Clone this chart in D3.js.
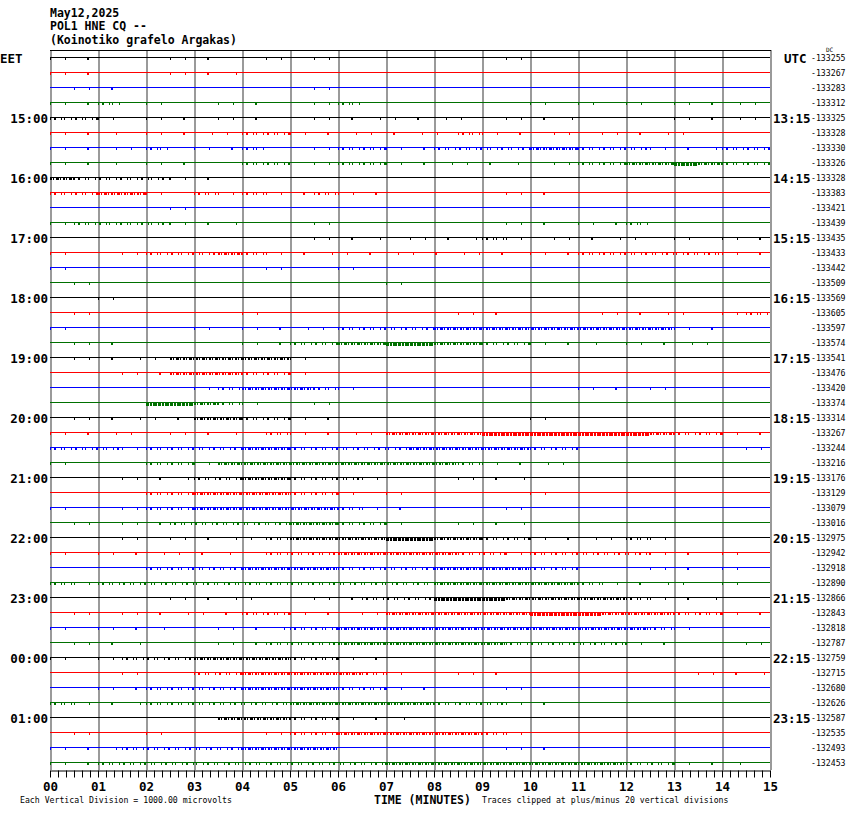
<!DOCTYPE html>
<html>
<head>
<meta charset="utf-8">
<script src="https://cdn.jsdelivr.net/npm/d3@7"></script>
<style>
  html, body { margin: 0; padding: 0; background: #ffffff; }
  svg { display: block; }
</style>
</head>
<body>
<script>
// ---------------- DATA ----------------
const titleLines = ["May12,2025", "POL1 HNE CQ --", "(Koinotiko grafelo Argakas)"];
const traceColors = ["#000000", "#ff0000", "#0000ff", "#007000"];
const minuteTicks = d3.range(0, 91).map(i => i / 6);      // every 10 s
const minuteLabels = d3.range(0, 16);                      // 00 .. 15
const localZone = "EET";
const utcZone = "UTC";
const localHourLabels = ["15:00","16:00","17:00","18:00","19:00","20:00","21:00","22:00","23:00","00:00","01:00"];
const utcHourLabels   = ["13:15","14:15","15:15","16:15","17:15","18:15","19:15","20:15","21:15","22:15","23:15"];
const hourLabelEvery = 4;   // one hour label every 4 traces, starting at trace 4
const traceOffsets = [
  -133255,-133267,-133283,-133312,-133325,-133328,-133330,-133326,
  -133328,-133383,-133421,-133439,-133435,-133433,-133442,-133509,
  -133569,-133605,-133597,-133574,-133541,-133476,-133420,-133374,
  -133314,-133267,-133244,-133216,-133176,-133129,-133079,-133016,
  -132975,-132942,-132918,-132890,-132866,-132843,-132818,-132787,
  -132759,-132715,-132680,-132626,-132587,-132535,-132493,-132453
];
// noise level per 30-second bin (0 quiet .. 4 very strong), 30 bins per 15-minute trace
const traceNoise = [
  "1100011001 0100000001 0000000000",
  "1100011100 0000000000 0000000000",
  "0110000000 0100000000 0000000000",
  "1120100110 0120000000 1010101111",
  "2210110110 0111111101 1100001111",
  "1110111122 1111111211 0101111000",
  "1111201120 0122112222 3322211122",
  "1110110022 0122111111 0122334322",
  "3222211000 0000000000 0000000000",
  "2233102121 1211000001 1000000000",
  "0000010000 0000000000 0000000000",
  "1222211100 0100000001 1011200000",
  "0000000000 0111011121 0111101011",
  "1001222321 1111111111 1122222211",
  "1000000001 0010000000 0000000000",
  "0100000000 0000100000 0000000000",
  "0010000000 0000000000 0000000000",
  "0100000010 0000000110 0001111012",
  "1000001011 1122223333 3333331100",
  "0110000011 2233443322 1110111100",
  "0111133333 1000000000 0000000000",
  "0001133322 1000000000 0000000000",
  "0000001233 3210000000 0011010000",
  "0000443210 0100000000 0000000000",
  "0111113322 1100000000 1000000000",
  "1111011102 1111333344 4444432211",
  "2221222233 2222233333 2200000001",
  "1000221333 3333333211 1100000000",
  "0001112233 2221000111 0000000000",
  "0000223333 2210100000 1000000000",
  "1001223333 3321100001 0000000000",
  "0101122222 3322100111 0000000000",
  "0001011112 3333443322 1111210000",
  "1011111102 2233333221 2222211010",
  "0000222233 3322223333 2200011010",
  "2122222222 2222223333 3321111010",
  "0000011110 0112224443 3333211100",
  "0101111122 1101333333 4443332211",
  "1011100111 2233333333 3333321000",
  "0111000112 2233333332 2222110001",
  "1012223333 2211000000 0000000000",
  "0001002233 3332100110 0000000111",
  "0011222233 3322110001 0000000000",
  "2111222222 3333332221 1000000000",
  "0000000333 2211100000 0000000000",
  "0100100001 2233333321 0000000000",
  "1112222233 3300000001 1000000000",
  "1122222222 2222333333 3333221110"
];
const footerLeft = "Each Vertical Division = 1000.00 microvolts";
const footerCenter = "TIME (MINUTES)";
const footerRight = "Traces clipped at plus/minus 20 vertical divisions";

// ---------------- DRAW ----------------
const W = 850, H = 814;
const mono = "'DejaVu Sans Mono', 'Liberation Mono', monospace";
const svg = d3.select("body").append("svg").attr("width", W).attr("height", H);
svg.append("rect").attr("width", W).attr("height", H).attr("fill", "#fff");

const nTraces = traceOffsets.length;
const binMinutes = 0.5;
const x = d3.scaleLinear().domain([0, 15]).range([50, 770]);
const y = d3.scaleLinear().domain([0, nTraces - 1]).range([57.5, 762.5]);

// header
svg.append("g").selectAll("text").data(titleLines).join("text")
  .attr("x", 50).attr("y", (d, i) => 17 + i * 13.3)
  .attr("font-family", mono).attr("font-weight", "bold").attr("font-size", 11.5)
  .attr("fill", "#000").text(d => d);

// grid (vertical minute lines)
svg.append("g").selectAll("line").data(minuteLabels).join("line")
  .attr("x1", d => x(d) + 1).attr("x2", d => x(d) + 1)
  .attr("y1", 50).attr("y2", 770)
  .attr("stroke", "#9a9a9a").attr("stroke-width", 2);

// top border
svg.append("line").attr("x1", x(0)).attr("x2", x(15) + 1).attr("y1", 50.5).attr("y2", 50.5)
  .attr("stroke", "#000").attr("stroke-width", 1);

// traces
const dash = {1: "1 14 1 21 2 27", 2: "1 3 2 5 1 2 1 6", 3: "2 1 1 2 3 1 1 2", 4: "3 1 2 1 4 1"};
const tickH = {1: 2, 2: 2, 3: 2, 4: 3};
const gTr = svg.append("g");
traceNoise.forEach((s, i) => {
  const col = traceColors[i % traceColors.length];
  const yy = y(i);
  gTr.append("line").attr("x1", x(0)).attr("x2", x(15)).attr("y1", yy).attr("y2", yy)
    .attr("stroke", col).attr("stroke-width", 1);
  const lv = s.replace(/\s/g, "").split("").map(Number);
  let b = 0;
  while (b < lv.length) {
    const L = lv[b];
    let e = b;
    while (e < lv.length && lv[e] === L) e++;
    if (L > 0) {
      const h = tickH[L];
      const cy = yy + 0.5 + h / 2;
      gTr.append("line")
        .attr("x1", x(b * binMinutes)).attr("x2", x(e * binMinutes))
        .attr("y1", cy).attr("y2", cy)
        .attr("stroke", col).attr("stroke-width", h)
        .attr("stroke-dasharray", dash[L]);
    }
    b = e;
  }
});

// left labels
svg.append("text").attr("x", 0).attr("y", y(0) + 5)
  .attr("font-family", mono).attr("font-weight", "bold").attr("font-size", 12.5)
  .text(localZone);
svg.append("g").selectAll("text").data(localHourLabels).join("text")
  .attr("x", 48).attr("y", (d, i) => y((i + 1) * hourLabelEvery) + 5)
  .attr("text-anchor", "end")
  .attr("font-family", mono).attr("font-weight", "bold").attr("font-size", 12.5)
  .text(d => d);

// right labels
svg.append("text").attr("x", 784).attr("y", y(0) + 5)
  .attr("font-family", mono).attr("font-weight", "bold").attr("font-size", 12.5)
  .text(utcZone);
svg.append("g").selectAll("text").data(utcHourLabels).join("text")
  .attr("x", 773).attr("y", (d, i) => y((i + 1) * hourLabelEvery) + 5)
  .attr("font-family", mono).attr("font-weight", "bold").attr("font-size", 12.5)
  .text(d => d);
svg.append("g").selectAll("text").data(traceOffsets).join("text")
  .attr("x", 811).attr("y", (d, i) => y(i) + 3)
  .attr("font-family", mono).attr("font-size", 8.2)
  .text(d => String(d));
svg.append("text").attr("x", 826).attr("y", 52)
  .attr("font-family", mono).attr("font-size", 6).text("DC");

// time axis
const axis = d3.axisBottom(x)
  .tickValues(minuteTicks)
  .tickSize(7).tickSizeOuter(0).tickPadding(5)
  .tickFormat((d, i) => (i % 6 === 0 ? d3.format("02d")(Math.round(d)) : ""));
const gAx = svg.append("g").attr("transform", "translate(0,770.5)").call(axis);
gAx.select(".domain").attr("stroke", "#000");
gAx.selectAll(".tick line").attr("stroke", "#000");
gAx.selectAll(".tick text")
  .attr("font-family", mono).attr("font-weight", "bold").attr("font-size", 12.5).attr("fill", "#000");

// footer
svg.append("text").attr("x", 20).attr("y", 803)
  .attr("font-family", mono).attr("font-size", 8.2).text(footerLeft);
svg.append("text").attr("x", 374).attr("y", 804)
  .attr("font-family", mono).attr("font-weight", "bold").attr("font-size", 11.5).text(footerCenter);
svg.append("text").attr("x", 482).attr("y", 803)
  .attr("font-family", mono).attr("font-size", 8.2).text(footerRight);
</script>
</body>
</html>
